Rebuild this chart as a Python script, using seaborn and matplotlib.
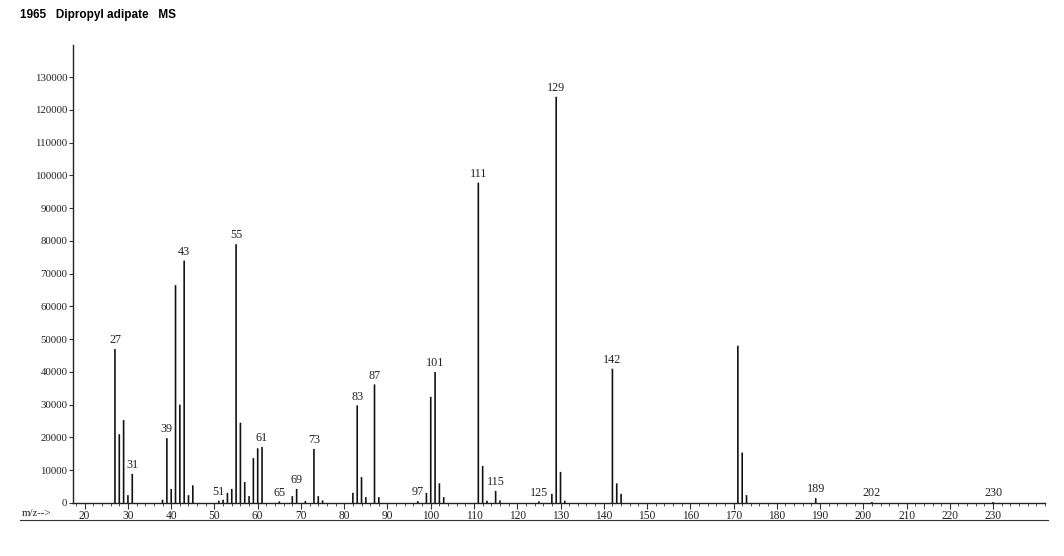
import matplotlib
matplotlib.use("Agg")
import matplotlib.pyplot as plt
from matplotlib.lines import Line2D
from matplotlib.ticker import MultipleLocator
import seaborn as sns
import numpy as np

# ---- data ----
mz = [27, 28, 29, 30, 31, 38, 39, 40, 41, 42, 43, 44, 45,
      51, 52, 53, 54, 55, 56, 57, 58, 59, 60, 61,
      65, 68, 69, 71, 73, 74, 75,
      82, 83, 84, 85, 87, 88,
      97, 99, 100, 101, 102, 103,
      111, 112, 113, 115, 116, 125,
      128, 129, 130, 131,
      142, 143, 144, 171, 172, 173,
      189, 202, 230]
intensity = [47000, 21000, 25300, 2400, 8900, 1000, 19800, 4300, 66500, 30000, 74000, 2400, 5400,
             700, 1000, 3100, 4300, 79000, 24500, 6400, 2100, 13700, 16700, 17100,
             500, 2100, 4300, 600, 16500, 2100, 800,
             3100, 29800, 7900, 1800, 36200, 1800,
             600, 3100, 32400, 40000, 6000, 1800,
             97800, 11300, 700, 3700, 800, 500,
             2800, 124000, 9500, 700,
             41000, 6000, 2800, 48000, 15400, 2400,
             1500, 300, 300]
labelled = [27, 31, 39, 43, 51, 55, 61, 65, 69, 73, 83, 87, 97, 101,
            111, 115, 125, 129, 142, 189, 202, 230]
yticks = list(range(0, 130001, 10000))
xticks = list(range(20, 231, 10))
title = "1965   Dipropyl adipate   MS"

W, H = 1064, 556
fig = plt.figure(figsize=(W / 100, H / 100), dpi=100)
ax = fig.add_axes([73 / W, 1 - 503 / H, (1045 - 73) / W, (503 - 45) / H])

sns.barplot(x=mz, y=intensity, native_scale=True, orient="x", width=0.38,
            color="#111111", saturation=1, linewidth=0,
            errorbar=None, ax=ax)
for p in ax.patches:
    p.set_snap(False)

ax.set_xlim(17.3, 242)
ax.set_ylim(0, 139800)

serif = ["Liberation Serif", "DejaVu Serif"]

ax.set_yticks(yticks)
ax.set_yticklabels([str(v) for v in yticks], family=serif, fontsize=7.8, color="#222222")
ax.set_xticks(xticks)
ax.set_xticklabels([str(v) for v in xticks], family=serif, fontsize=8.3, color="#222222")
ax.xaxis.set_minor_locator(MultipleLocator(2))
ax.tick_params(axis="y", direction="out", length=3, width=0.8, pad=1, color="#333333")
ax.tick_params(axis="x", which="major", direction="out", length=4, width=0.8, pad=1, color="#333333")
ax.tick_params(axis="x", which="minor", direction="out", length=2, width=0.6, color="#333333")

for s in ["top", "right"]:
    ax.spines[s].set_visible(False)
for s in ["left", "bottom"]:
    ax.spines[s].set_linewidth(1.0)
    ax.spines[s].set_color("#222222")
ax.set_xlabel("")
ax.set_ylabel("")

lookup = dict(zip(mz, intensity))
for m in labelled:
    ax.annotate(str(m), (m, lookup[m]), xytext=(0, 2), textcoords="offset points",
                ha="center", va="bottom", family=serif, fontsize=8.7, color="#222222")

fig.text(22 / W, 1 - 513 / H, "m/z-->", ha="left", va="center",
         family=serif, fontsize=7.8, color="#222222")
fig.add_artist(Line2D([20 / W, 1048 / W], [1 - 519.5 / H, 1 - 519.5 / H],
                      transform=fig.transFigure, color="#333333", lw=0.8))

fig.text(20 / W, 1 - 15 / H, title, ha="left", va="center",
         family=["Liberation Sans", "DejaVu Sans"], fontweight="bold", fontsize=8.5)

fig.savefig("out.png", dpi=100, facecolor="white")
